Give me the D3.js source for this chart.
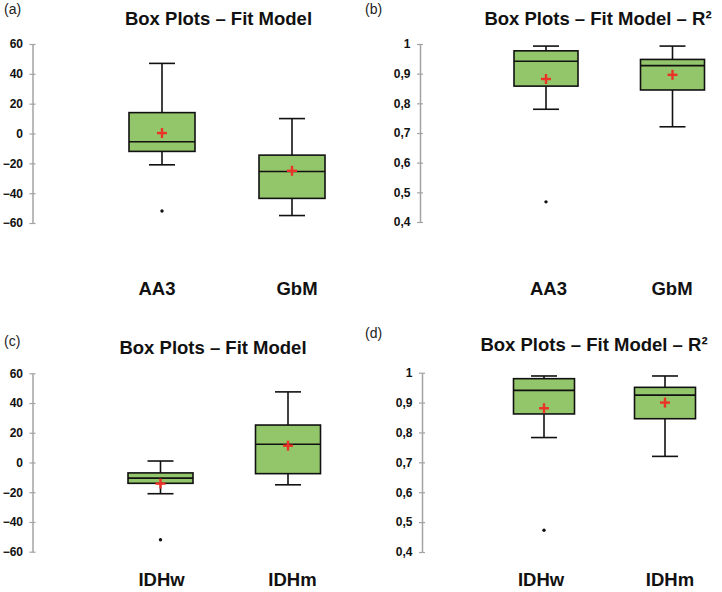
<!DOCTYPE html>
<html><head><meta charset="utf-8">
<script src="https://cdn.jsdelivr.net/npm/d3@7"></script>
<style>
html,body{margin:0;padding:0;background:#fff;}
svg{display:block;}
text{font-family:"Liberation Sans",Arial,sans-serif;}
</style></head>
<body>
<svg id="chart" width="722" height="592"></svg>
<script>
// ---------- data ----------
const panelLetters = ["(a)", "(b)", "(c)", "(d)"];
const panelTitles = ["Box Plots \u2013 Fit Model", "Box Plots \u2013 Fit Model \u2013 R\u00B2", "Box Plots \u2013 Fit Model", "Box Plots \u2013 Fit Model \u2013 R\u00B2"];
const categoriesTop = ["AA3", "GbM"];
const categoriesBottom = ["IDHw", "IDHm"];
const fitTicks = [-60, -40, -20, 0, 20, 40, 60];
const r2Ticks = [0.4, 0.5, 0.6, 0.7, 0.8, 0.9, 1];
// [whiskerLow, Q1, median, Q3, whiskerHigh, mean, outlier]
const fitA = [[-21, -12, -5.5, 14, 47, 0.3, -52], [-55, -43.5, -25.5, -14.5, 10, -25, null]];
const r2B = [[0.78, 0.858, 0.942, 0.977, 0.993, 0.882, 0.468], [0.721, 0.845, 0.927, 0.948, 0.993, 0.896, null]];
const fitC = [[-21, -14, -10.5, -7, 1, -14.2, -52], [-15, -7.5, 12.3, 25.2, 47.5, 11.3, null]];
const r2D = [[0.783, 0.862, 0.941, 0.98, 0.989, 0.881, 0.473], [0.72, 0.846, 0.925, 0.951, 0.989, 0.9, null]];

// ---------- layout ----------
const svg = d3.select("#chart");
const commaFmt = d3.formatLocale({decimal: ",", thousands: ".", grouping: [3], currency: ["", ""]});
const r2Format = v => v === 1 ? "1" : commaFmt.format(".1f")(v);

const panels = [
  {letter: panelLetters[0], title: panelTitles[0], cats: categoriesTop, data: fitA, ticks: fitTicks, domain: [-60, 60],
   fmt: d3.format("d"), axisX: 32.5, yRange: [223, 44], boxRange: [162, 292], labelRange: [157, 297], boxW: 66,
   labelY: 295, titleX: 218.5, titleY: 25, letterX: 4, letterY: 14},
  {letter: panelLetters[1], title: panelTitles[1], cats: categoriesTop, data: r2B, ticks: r2Ticks, domain: [0.4, 1],
   fmt: r2Format, axisX: 420, yRange: [222, 44], boxRange: [546, 672.5], labelRange: [548.5, 672], boxW: 64,
   labelY: 295, titleX: 598, titleY: 25, letterX: 365, letterY: 14},
  {letter: panelLetters[2], title: panelTitles[2], cats: categoriesBottom, data: fitC, ticks: fitTicks, domain: [-60, 60],
   fmt: d3.format("d"), axisX: 32.5, yRange: [551.7, 373.3], boxRange: [160.5, 288], labelRange: [161.5, 292.5], boxW: 65,
   labelY: 586, titleX: 213, titleY: 354, letterX: 4, letterY: 346},
  {letter: panelLetters[3], title: panelTitles[3], cats: categoriesBottom, data: r2D, ticks: r2Ticks, domain: [0.4, 1],
   fmt: r2Format, axisX: 422, yRange: [552, 372.7], boxRange: [544, 665], labelRange: [541, 670], boxW: 61,
   labelY: 586, titleX: 594, titleY: 351, letterX: 365, letterY: 338}
];

const boxFill = "#93c56b";
const meanColor = "#ec3328";

panels.forEach(p => {
  const g = svg.append("g");
  const y = d3.scaleLinear().domain(p.domain).range(p.yRange);
  const x = d3.scalePoint().domain(p.cats).range(p.boxRange);
  const xl = d3.scalePoint().domain(p.cats).range(p.labelRange);

  // panel letter
  g.append("text").attr("x", p.letterX).attr("y", p.letterY)
    .attr("font-size", 14).attr("fill", "#222").text(p.letter);
  // title
  g.append("text").attr("x", p.titleX).attr("y", p.titleY).attr("text-anchor", "middle")
    .attr("font-size", 18.5).attr("font-weight", "bold").attr("fill", "#111").text(p.title);

  // y axis
  const ax = g.append("g").attr("transform", `translate(${p.axisX},0)`)
    .call(d3.axisLeft(y).tickValues(p.ticks).tickFormat(p.fmt).tickSizeInner(3).tickSizeOuter(0).tickPadding(6.5));
  ax.select(".domain").attr("stroke", "#a3a3a3").attr("stroke-width", 1.5);
  ax.selectAll(".tick line").attr("stroke", "#a3a3a3").attr("stroke-width", 1.2).attr("x1", 3);
  ax.selectAll(".tick text").attr("font-size", 12).attr("font-weight", "bold").attr("fill", "#111")
    .attr("font-family", "'Liberation Sans', Arial, sans-serif");

  // boxes
  p.cats.forEach((c, i) => {
    const [wl, q1, med, q3, wh, mean, out] = p.data[i];
    const cx = x(c), hw = p.boxW / 2, cap = 13;
    const bg = g.append("g");
    // whiskers
    bg.append("line").attr("x1", cx).attr("x2", cx).attr("y1", y(q3)).attr("y2", y(wh)).attr("stroke", "#111").attr("stroke-width", 1.6);
    bg.append("line").attr("x1", cx).attr("x2", cx).attr("y1", y(q1)).attr("y2", y(wl)).attr("stroke", "#111").attr("stroke-width", 1.6);
    bg.append("line").attr("x1", cx - cap).attr("x2", cx + cap).attr("y1", y(wh)).attr("y2", y(wh)).attr("stroke", "#111").attr("stroke-width", 1.6);
    bg.append("line").attr("x1", cx - cap).attr("x2", cx + cap).attr("y1", y(wl)).attr("y2", y(wl)).attr("stroke", "#111").attr("stroke-width", 1.6);
    // box
    bg.append("rect").attr("x", cx - hw).attr("y", y(q3)).attr("width", p.boxW).attr("height", y(q1) - y(q3))
      .attr("fill", boxFill).attr("stroke", "#111").attr("stroke-width", 1.6);
    // median
    bg.append("line").attr("x1", cx - hw).attr("x2", cx + hw).attr("y1", y(med)).attr("y2", y(med)).attr("stroke", "#111").attr("stroke-width", 1.6);
    // mean
    const my = y(mean), s = 5;
    bg.append("line").attr("x1", cx - s).attr("x2", cx + s).attr("y1", my).attr("y2", my).attr("stroke", meanColor).attr("stroke-width", 2.4);
    bg.append("line").attr("x1", cx).attr("x2", cx).attr("y1", my - s).attr("y2", my + s).attr("stroke", meanColor).attr("stroke-width", 2.4);
    // outlier
    if (out !== null) {
      bg.append("circle").attr("cx", cx).attr("cy", y(out)).attr("r", 1.7).attr("fill", "#111");
    }
    // category label
    g.append("text").attr("x", xl(c)).attr("y", p.labelY).attr("text-anchor", "middle")
      .attr("font-size", 18.5).attr("font-weight", "bold").attr("fill", "#111").text(c);
  });
});
</script>
</body></html>
